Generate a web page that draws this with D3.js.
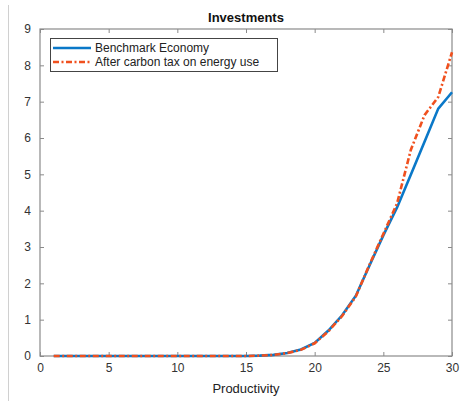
<!DOCTYPE html>
<html lang="en">
<head>
<meta charset="UTF-8">
<title>Investments</title>
<script src="https://d3js.org/d3.v7.min.js"></script>
<style>
  html, body { margin: 0; padding: 0; background: #fff; }
  svg { display: block; font-family: "Liberation Sans", Arial, sans-serif; }
</style>
</head>
<body>
<div id="chart"></div>
<script>
// productivity levels 1..30
const productivity = [1,2,3,4,5,6,7,8,9,10,11,12,13,14,15,16,17,18,19,20,21,22,23,24,25,26,27,28,29,30];
const benchmark = [0,0,0,0,0,0,0,0,0,0,0,0,0,0,0,0.01,0.03,0.08,0.18,0.36,0.7,1.12,1.66,2.5,3.32,4.09,4.99,5.9,6.81,7.26];
const carbonTax = [0,0,0,0,0,0,0,0,0,0,0,0,0,0,0,0.01,0.03,0.08,0.17,0.35,0.68,1.1,1.64,2.52,3.36,4.2,5.67,6.63,7.13,8.36];
const xTicks = [0,5,10,15,20,25,30];
const yTicks = [0,1,2,3,4,5,6,7,8,9];

const W = 465, H = 401;
const m = {left: 40, right: 13, top: 29, bottom: 45};

const svg = d3.select('#chart').append('svg').attr('width', W).attr('height', H);

// page edge line on the left
svg.append('line').attr('x1', 8.5).attr('x2', 8.5).attr('y1', 5).attr('y2', H)
  .attr('stroke', '#d0d0d0').attr('stroke-width', 1);

const x = d3.scaleLinear().domain([0, 30]).range([m.left, W - m.right]);
const y = d3.scaleLinear().domain([0, 9]).range([H - m.bottom, m.top]);

const axisColor = '#8a8a8a';
const textColor = '#333';

function styleAxis(g, showText) {
  g.select('.domain').remove();
  g.selectAll('.tick line').attr('stroke', axisColor);
  g.selectAll('.tick text').attr('fill', textColor).attr('font-size', 12)
    .style('display', showText ? null : 'none');
}

svg.append('g').attr('transform', `translate(0,${y(0)})`)
  .call(d3.axisBottom(x).tickValues(xTicks).tickSize(-4).tickPadding(7))
  .call(g => styleAxis(g, true));
svg.append('g').attr('transform', `translate(0,${y(9)})`)
  .call(d3.axisTop(x).tickValues(xTicks).tickSize(-4))
  .call(g => styleAxis(g, false));
svg.append('g').attr('transform', `translate(${x(0)},0)`)
  .call(d3.axisLeft(y).tickValues(yTicks).tickSize(-4).tickPadding(9))
  .call(g => styleAxis(g, true));
svg.append('g').attr('transform', `translate(${x(30)},0)`)
  .call(d3.axisRight(y).tickValues(yTicks).tickSize(-4))
  .call(g => styleAxis(g, false));

// axes box
svg.append('rect')
  .attr('x', x(0)).attr('y', y(9))
  .attr('width', x(30) - x(0)).attr('height', y(0) - y(9))
  .attr('fill', 'none').attr('stroke', axisColor).attr('stroke-width', 1.2);

const line = d3.line().x((d, i) => x(productivity[i])).y(d => y(d));

const blue = '#0A78C8', red = '#F0501E';

svg.append('path').datum(benchmark).attr('d', line)
  .attr('fill', 'none').attr('stroke', blue).attr('stroke-width', 2.6);
svg.append('path').datum(carbonTax).attr('d', line)
  .attr('fill', 'none').attr('stroke', red).attr('stroke-width', 2.6)
  .attr('stroke-dasharray', '6,2.5,2,2.5');

// title
svg.append('text').attr('x', (x(0) + x(30)) / 2).attr('y', 22)
  .attr('text-anchor', 'middle').attr('font-size', 13).attr('font-weight', 'bold')
  .attr('fill', '#111').text('Investments');

// x label
svg.append('text').attr('x', (x(0) + x(30)) / 2).attr('y', 393)
  .attr('text-anchor', 'middle').attr('font-size', 13).attr('fill', '#222')
  .text('Productivity');

// legend
const lg = svg.append('g');
lg.append('rect').attr('x', 50.5).attr('y', 38.5).attr('width', 227).attr('height', 33)
  .attr('fill', '#fff').attr('stroke', '#444').attr('stroke-width', 1);
const entries = [
  {label: 'Benchmark Economy', color: blue, dash: null},
  {label: 'After carbon tax on energy use', color: red, dash: '6,2.5,2,2.5'}
];
entries.forEach((e, i) => {
  const yy = 48 + i * 14;
  lg.append('line').attr('x1', 53).attr('x2', 91).attr('y1', yy).attr('y2', yy)
    .attr('stroke', e.color).attr('stroke-width', 2.6).attr('stroke-dasharray', e.dash);
  lg.append('text').attr('x', 95).attr('y', yy + 4).attr('font-size', 12)
    .attr('fill', '#222').text(e.label);
});
</script>
</body>
</html>
